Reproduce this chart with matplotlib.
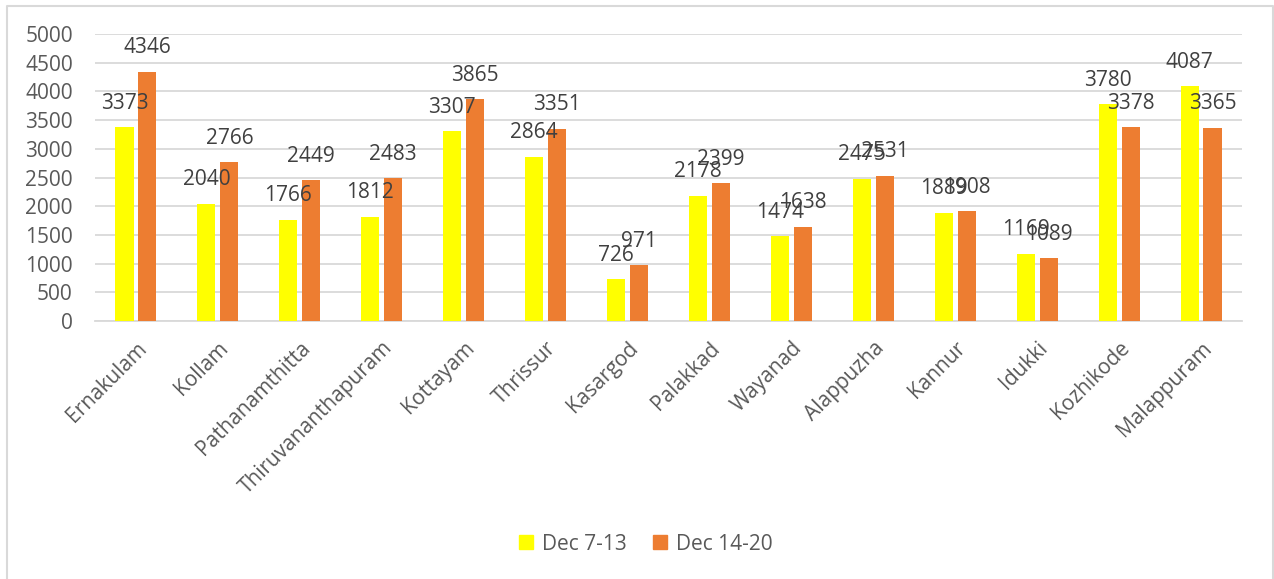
import numpy as np
import matplotlib.pyplot as plt
from matplotlib.lines import Line2D

# ========================================
# DATA
# ========================================
districts = ["Ernakulam", "Kollam", "Pathanamthitta", "Thiruvananthapuram", "Kottayam",
             "Thrissur", "Kasargod", "Palakkad", "Wayanad", "Alappuzha", "Kannur",
             "Idukki", "Kozhikode", "Malappuram"]
dec_7_13 = [3373, 2040, 1766, 1812, 3307, 2864, 726, 2178, 1474, 2475, 1889, 1169, 3780, 4087]
dec_14_20 = [4346, 2766, 2449, 2483, 3865, 3351, 971, 2399, 1638, 2531, 1908, 1089, 3378, 3365]
series_names = ["Dec 7-13", "Dec 14-20"]
y_ticks = [0, 500, 1000, 1500, 2000, 2500, 3000, 3500, 4000, 4500, 5000]

# ========================================
# STYLE
# ========================================
plt.rcParams["font.family"] = ["Open Sans", "DejaVu Sans"]
TEXT = "#595959"
LABEL = "#404040"
GRID = "#d9d9d9"
YELLOW = "#ffff00"
ORANGE = "#ed7d31"
FS = 15

fig = plt.figure(figsize=(12.74, 5.79), dpi=100)
ax = fig.add_axes([95 / 1274, 1 - 321 / 579, (1242 - 95) / 1274, (321 - 34) / 579])

x = np.arange(len(districts))
w = 0.22
off = 0.14
ax.bar(x - off, dec_7_13, w, color=YELLOW, zorder=3)
ax.bar(x + off, dec_14_20, w, color=ORANGE, zorder=3)

# value labels above the bars (they overlap in a few places, as in the original)
for xi, v in zip(x, dec_7_13):
    ax.annotate(str(v), (xi - off, v), xytext=(0, 24), textcoords="offset pixels",
                ha="center", va="center", fontsize=FS, color=LABEL, zorder=4)
for xi, v in zip(x, dec_14_20):
    ax.annotate(str(v), (xi + off, v), xytext=(0, 24), textcoords="offset pixels",
                ha="center", va="center", fontsize=FS, color=LABEL, zorder=4)

ax.set_xlim(-0.5, len(districts) - 0.5)
ax.set_ylim(0, 5000)
ax.set_yticks(y_ticks)
ax.set_yticklabels([str(t) for t in y_ticks], fontsize=FS, color=TEXT)
ax.set_xticks(x)
ax.set_xticklabels(districts, rotation=45, ha="right", va="top", rotation_mode="anchor",
                   fontsize=FS, color=TEXT)
ax.tick_params(axis="both", length=0)
ax.tick_params(axis="y", pad=16)
ax.tick_params(axis="x", pad=12)

ax.grid(axis="y", color=GRID, linewidth=1.3, zorder=0)
for s in ["top", "right", "left"]:
    ax.spines[s].set_visible(False)
ax.spines["bottom"].set_color(GRID)
ax.spines["bottom"].set_linewidth(1.3)

# legend
handles = [Line2D([], [], marker="s", linestyle="none", markersize=10,
                  markerfacecolor=YELLOW, markeredgecolor=YELLOW),
           Line2D([], [], marker="s", linestyle="none", markersize=10,
                  markerfacecolor=ORANGE, markeredgecolor=ORANGE)]
leg = fig.legend(handles, series_names, loc="center", bbox_to_anchor=(645 / 1274, 1 - 544 / 579),
                 ncol=2, frameon=False, fontsize=FS, handlelength=0.8, handletextpad=0.35,
                 columnspacing=1.2)
for t in leg.get_texts():
    t.set_color(TEXT)

# chart border
bx0, bx1, by = 7 / 1274, 1273 / 1274, 1 - 6 / 579
fig.add_artist(Line2D([bx0, bx0, bx1, bx1], [0, by, by, 0], color=GRID, linewidth=1.5,
                      transform=fig.transFigure))

plt.savefig("out.png", dpi=100)
